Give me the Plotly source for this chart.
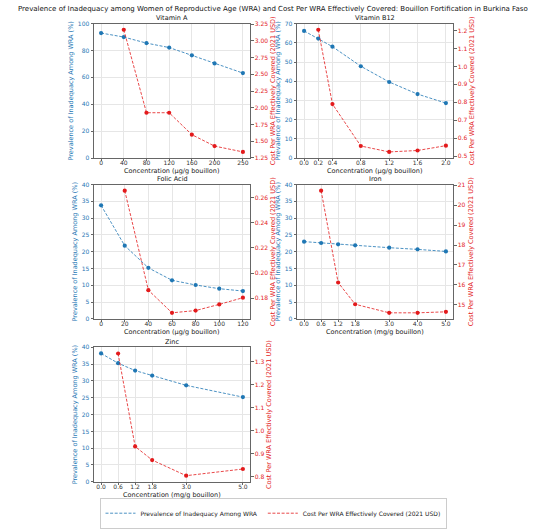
import plotly.graph_objects as go

# ---------------- data ----------------
panel_titles = ["Vitamin A", "Vitamin B12", "Folic Acid", "Iron", "Zinc"]
x_titles = ["Concentration (µg/g bouillon)", "Concentration (µg/g bouillon)",
            "Concentration (µg/g bouillon)", "Concentration (mg/g bouillon)",
            "Concentration (mg/g bouillon)"]

vitA_x = [0, 40, 80, 120, 160, 200, 250]
vitA_prev = [93.0, 90.0, 85.5, 82.2, 76.4, 70.4, 63.2]
vitA_cost_x = [40, 80, 120, 160, 200, 250]
vitA_cost = [3.167, 1.926, 1.926, 1.598, 1.427, 1.340]

b12_x = [0.0, 0.2, 0.4, 0.8, 1.2, 1.6, 2.0]
b12_prev = [66.2, 62.2, 58.0, 47.8, 39.6, 33.3, 28.6]
b12_cost_x = [0.2, 0.4, 0.8, 1.2, 1.6, 2.0]
b12_cost = [1.205, 0.790, 0.556, 0.523, 0.531, 0.558]

folic_x = [0, 20, 40, 60, 80, 100, 120]
folic_prev = [33.8, 21.8, 15.2, 11.5, 10.1, 9.0, 8.3]
folic_cost_x = [20, 40, 60, 80, 100, 120]
folic_cost = [0.2655, 0.1865, 0.1685, 0.1703, 0.1752, 0.1805]

iron_x = [0.0, 0.6, 1.2, 1.8, 3.0, 4.0, 5.0]
iron_prev = [23.0, 22.6, 22.2, 21.9, 21.2, 20.7, 20.1]
iron_cost_x = [0.6, 1.2, 1.8, 3.0, 4.0, 5.0]
iron_cost = [20.73, 16.12, 15.03, 14.60, 14.60, 14.65]

zinc_x = [0.0, 0.6, 1.2, 1.8, 3.0, 5.0]
zinc_prev = [38.2, 35.3, 33.1, 31.6, 28.7, 25.2]
zinc_cost_x = [0.6, 1.2, 1.8, 3.0, 5.0]
zinc_cost = [1.336, 0.932, 0.873, 0.805, 0.834]

x_ticklabels = [
    ["0", "40", "80", "120", "160", "200", "250"],
    ["0.0", "0.2", "0.4", "0.8", "1.2", "1.6", "2.0"],
    ["0", "20", "40", "60", "80", "100", "120"],
    ["0.0", "0.6", "1.2", "1.8", "3.0", "4.0", "5.0"],
    ["0.0", "0.6", "1.2", "1.8", "3.0", "5.0"],
]
left_ticks = [
    [0, 20, 40, 60, 80, 100],
    [0, 10, 20, 30, 40, 50, 60, 70],
    [0, 5, 10, 15, 20, 25, 30, 35, 40],
    [0, 5, 10, 15, 20, 25, 30, 35, 40],
    [0, 5, 10, 15, 20, 25, 30, 35, 40],
]
left_ranges = [[0, 100], [0, 70], [0, 40], [0, 40], [0, 40]]
right_ticks = [
    [1.25, 1.50, 1.75, 2.00, 2.25, 2.50, 2.75, 3.00, 3.25],
    [0.5, 0.6, 0.7, 0.8, 0.9, 1.0, 1.1, 1.2],
    [0.18, 0.20, 0.22, 0.24, 0.26],
    [15, 16, 17, 18, 19, 20, 21],
    [0.8, 0.9, 1.0, 1.1, 1.2, 1.3],
]
right_fmt = [".2f", ".1f", ".2f", "d", ".1f"]

prev_x = [vitA_x, b12_x, folic_x, iron_x, zinc_x]
prev_y = [vitA_prev, b12_prev, folic_prev, iron_prev, zinc_prev]
cost_x = [vitA_cost_x, b12_cost_x, folic_cost_x, iron_cost_x, zinc_cost_x]
cost_y = [vitA_cost, b12_cost, folic_cost, iron_cost, zinc_cost]

# ---------------- styling ----------------
W, H = 546, 529
BLUE = "#1f77b4"
RED = "#e31a1c"
BLUE_L = "rgba(31,119,180,0.8)"
RED_L = "rgba(227,26,28,0.8)"
DASH = "3px,1.6px"
FONT = "DejaVu Sans"

col_px = [(94, 250), (297, 453)]
row_px = [(20, 157), (184, 321), (350, 487)]
cells = [(0, 0), (0, 1), (1, 0), (1, 1), (2, 0)]


def xdom(c):
    a, b = col_px[c]
    return [a / W, b / W]


def ydom(r):
    a, b = row_px[r]
    return [1 - b / H, 1 - a / H]


fig = go.Figure()
layout = {}
annotations = []

for i in range(5):
    r, c = cells[i]
    xn = f"x{i + 1}"
    yl = f"y{i + 1}"
    yr = f"y{i + 6}"
    xs = prev_x[i]
    span = max(xs) - min(xs)
    xr = [min(xs) - 0.05 * span, max(xs) + 0.05 * span]
    cy = cost_y[i]
    cspan = max(cy) - min(cy)
    yr_range = [min(cy) - 0.05 * cspan, max(cy) + 0.05 * cspan]

    fig.add_trace(go.Scatter(
        x=xs, y=prev_y[i], xaxis=xn, yaxis=yl, mode="lines+markers",
        line=dict(color=BLUE_L, width=1, dash=DASH),
        marker=dict(color=BLUE, size=4.2), showlegend=False))
    fig.add_trace(go.Scatter(
        x=cost_x[i], y=cy, xaxis=xn, yaxis=yr, mode="lines+markers",
        line=dict(color=RED_L, width=1, dash=DASH),
        marker=dict(color=RED, size=4.2), showlegend=False))

    layout[f"xaxis{i + 1}"] = dict(
        domain=xdom(c), anchor=yl, range=xr,
        tickmode="array", tickvals=xs, ticktext=x_ticklabels[i],
        showgrid=True, gridcolor="#e6e6e6", gridwidth=1, zeroline=False,
        showline=True, linecolor="#666", linewidth=1, mirror=True,
        ticks="outside", ticklen=2, tickcolor="#666", ticklabelstandoff=-3,
        tickfont=dict(size=6, color="#333", family=FONT),
    )
    layout[f"yaxis{i + 1}"] = dict(
        domain=ydom(r), anchor=xn, range=left_ranges[i],
        tickmode="array", tickvals=left_ticks[i],
        showgrid=True, gridcolor="#e6e6e6", gridwidth=1, zeroline=False,
        showline=True, linecolor="#666", linewidth=1,
        ticks="outside", ticklen=2.5, tickcolor="#666",
        tickfont=dict(size=6, color=BLUE, family=FONT),
        title=dict(text="Prevalence of Inadequacy Among WRA (%)",
                   font=dict(size=6.5, color=BLUE, family=FONT), standoff=3),
    )
    layout[f"yaxis{i + 6}"] = dict(
        overlaying=yl, anchor=xn, side="right", range=yr_range,
        tickmode="array", tickvals=right_ticks[i], tickformat=right_fmt[i],
        showgrid=False, zeroline=False,
        showline=True, linecolor="#666", linewidth=1,
        ticks="outside", ticklen=2.5, tickcolor="#666",
        tickfont=dict(size=6, color=RED, family=FONT),
        title=dict(text="Cost Per WRA Effectively Covered (2021 USD)",
                   font=dict(size=6.5, color=RED, family=FONT), standoff=3),
    )
    xd = xdom(c)
    xc = (xd[0] + xd[1]) / 2
    top_px, bot_px = row_px[r]
    annotations.append(dict(
        text=panel_titles[i], xref="paper", yref="paper",
        x=xc, y=1 - (top_px - 0.5) / H, borderpad=0,
        xanchor="center", yanchor="bottom", showarrow=False,
        font=dict(size=6.5, color="#111", family=FONT)))
    annotations.append(dict(
        text=x_titles[i], xref="paper", yref="paper",
        x=xc, y=1 - (bot_px + 13) / H, borderpad=0,
        xanchor="center", yanchor="middle", showarrow=False,
        font=dict(size=6.5, color="#222", family=FONT)))

annotations.append(dict(
    text="Prevalence of Inadequacy among Women of Reproductive Age (WRA) and Cost Per WRA Effectively Covered: Bouillon Fortification in Burkina Faso",
    xref="paper", yref="paper", x=0.5, y=1.0, xanchor="center", yanchor="top", borderpad=0,
    showarrow=False, font=dict(size=7, color="#111", family=FONT)))

# legend entries
fig.add_trace(go.Scatter(x=[None], y=[None], mode="lines", name="Prevalence of Inadequacy Among WRA",
                         line=dict(color=BLUE_L, width=1, dash=DASH)))
fig.add_trace(go.Scatter(x=[None], y=[None], mode="lines", name="Cost Per WRA Effectively Covered (2021 USD)",
                         line=dict(color=RED_L, width=1, dash=DASH)))

fig.update_layout(
    **layout,
    annotations=annotations,
    width=W, height=H,
    margin=dict(l=0, r=0, t=0, b=0),
    paper_bgcolor="white", plot_bgcolor="white",
    font=dict(family=FONT, size=6, color="#222"),
    legend=dict(orientation="h", x=0.5, xanchor="center", y=1 - 519 / H, yanchor="middle",
                bordercolor="#cccccc", borderwidth=1, bgcolor="white",
                font=dict(size=6, family=FONT, color="#222"), itemwidth=30),
)

fig.write_html("out.html")
